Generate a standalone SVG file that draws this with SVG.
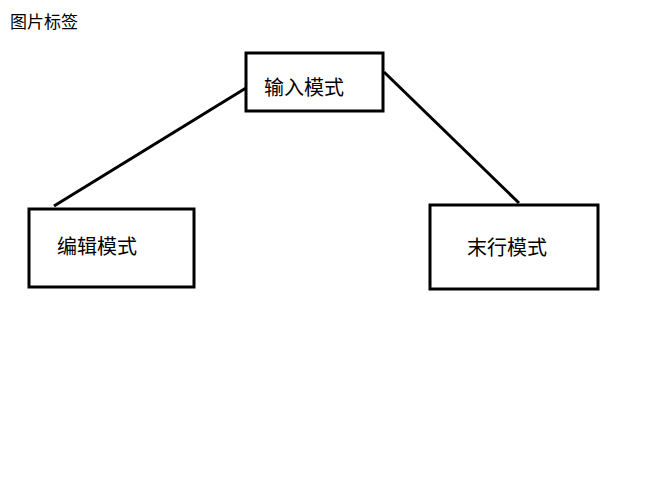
<svg xmlns="http://www.w3.org/2000/svg" width="648" height="488" viewBox="0 0 648 488">
<style>
.box{fill:#fff;stroke:#000;stroke-width:3}
.t{font-family:"Noto Sans CJK SC",sans-serif;font-size:20px;fill:#000}
.c{stroke:#000;stroke-width:3;fill:none}
</style>
<rect width="648" height="488" fill="#fff"/>
<text x="10" y="28" style="font-family:'Noto Sans CJK SC',sans-serif;font-size:17px">图片标签</text>
<g id="connectors">
<line class="c" x1="246" y1="88" x2="54" y2="206"/>
<line class="c" x1="384" y1="72" x2="519" y2="203"/>
</g>
<g id="input"><rect class="box" x="246" y="53" width="137" height="58"/><text class="t" x="264" y="95">输入模式</text></g>
<g id="edit"><rect class="box" x="29" y="209" width="165" height="78"/><text class="t" x="57" y="254">编辑模式</text></g>
<g id="last"><rect class="box" x="430" y="205" width="168" height="84"/><text class="t" x="467" y="255">末行模式</text></g>
</svg>
